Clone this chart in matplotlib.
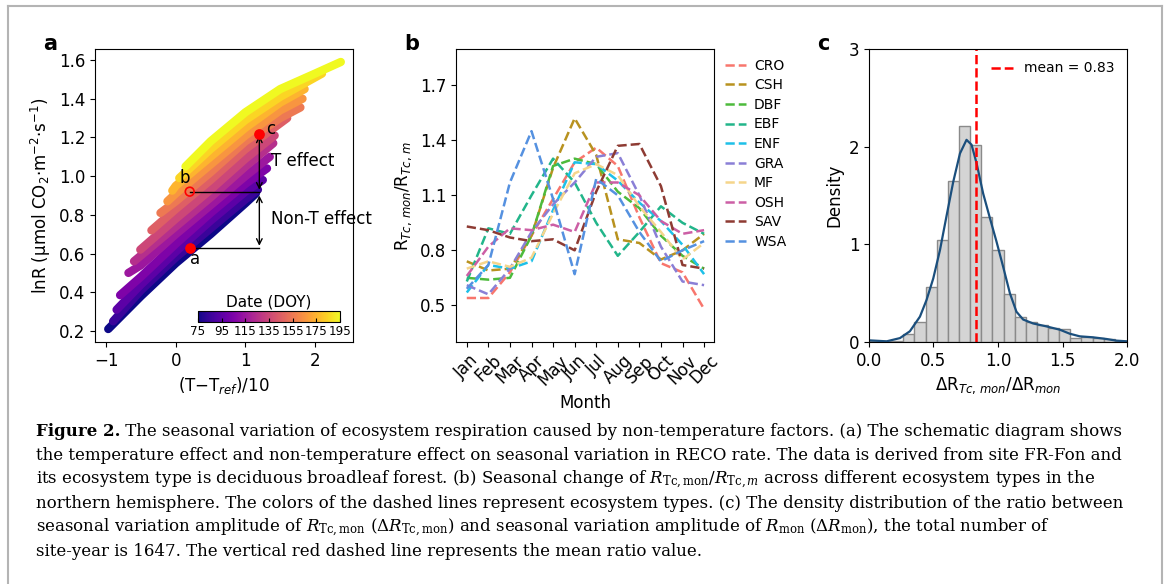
import matplotlib
matplotlib.use('Agg')
import matplotlib.pyplot as plt
from matplotlib.lines import Line2D
import numpy as np

# ---- panel a: lnR vs (T-Tref)/10, one band per DOY group ----
doy_groups = [75, 85, 95, 105, 115, 125, 135, 145, 155, 165, 175, 185, 195]
band_x = [
    [-0.97, -0.5, 0.0, 0.5, 1.0, 1.15],
    [-0.90, -0.5, 0.0, 0.5, 1.0, 1.18],
    [-0.85, -0.5, 0.0, 0.5, 1.0, 1.25],
    [-0.80, -0.5, 0.0, 0.5, 1.0, 1.31],
    [-0.68, -0.5, 0.0, 0.5, 1.0, 1.35],
    [-0.60, -0.5, 0.0, 0.5, 1.0, 1.40],
    [-0.51, 0.0, 0.5, 1.0, 1.42],
    [-0.35, 0.0, 0.5, 1.0, 1.60],
    [-0.22, 0.0, 0.5, 1.0, 1.5, 1.79],
    [-0.12, 0.0, 0.5, 1.0, 1.5, 1.82],
    [-0.05, 0.0, 0.5, 1.0, 1.5, 1.85],
    [0.05, 0.5, 1.0, 1.5, 2.1],
    [0.14, 0.5, 1.0, 1.5, 2.0, 2.37],
]
band_y = [
    [0.21, 0.38, 0.55, 0.70, 0.86, 0.91],
    [0.25, 0.41, 0.58, 0.73, 0.88, 0.93],
    [0.31, 0.44, 0.61, 0.77, 0.92, 0.98],
    [0.385, 0.48, 0.65, 0.81, 0.96, 1.04],
    [0.50, 0.54, 0.70, 0.85, 1.00, 1.10],
    [0.56, 0.59, 0.74, 0.89, 1.05, 1.17],
    [0.62, 0.78, 0.93, 1.09, 1.21],
    [0.72, 0.83, 0.98, 1.14, 1.30],
    [0.81, 0.87, 1.02, 1.18, 1.30, 1.355],
    [0.87, 0.91, 1.06, 1.21, 1.34, 1.40],
    [0.925, 0.95, 1.10, 1.25, 1.38, 1.45],
    [0.99, 1.14, 1.29, 1.41, 1.53],
    [1.05, 1.18, 1.33, 1.45, 1.53, 1.59],
]
pt_a = (0.2, 0.63)
pt_b = (0.2, 0.92)
pt_c = (1.2, 1.22)

# ---- panel b: seasonal ratio per ecosystem type ----
months = ['Jan', 'Feb', 'Mar', 'Apr', 'May', 'Jun', 'Jul', 'Aug', 'Sep', 'Oct', 'Nov', 'Dec']
eco_types = ['CRO', 'CSH', 'DBF', 'EBF', 'ENF', 'GRA', 'MF', 'OSH', 'SAV', 'WSA']
eco_colors = ['#f8766d', '#b8921f', '#4dbb3c', '#22b58a', '#1ec0e8',
              '#8a7fd6', '#f5d58b', '#cc5fa5', '#8e3b33', '#5591e0']
eco_values = [
    [0.54, 0.54, 0.68, 0.88, 1.08, 1.28, 1.36, 1.26, 0.98, 0.73, 0.68, 0.48],  # CRO
    [0.74, 0.69, 0.70, 0.88, 1.25, 1.52, 1.32, 0.86, 0.84, 0.75, 0.80, 0.89],  # CSH
    [0.65, 0.64, 0.65, 0.88, 1.26, 1.30, 1.27, 1.12, 1.03, 0.88, 0.77, 0.70],  # DBF
    [0.63, 0.92, 0.89, 1.10, 1.30, 1.17, 0.95, 0.77, 0.90, 1.04, 0.95, 0.89],  # EBF
    [0.57, 0.72, 0.70, 0.74, 1.02, 1.28, 1.27, 1.18, 1.06, 0.96, 0.83, 0.67],  # ENF
    [0.61, 0.56, 0.70, 0.90, 1.05, 1.17, 1.31, 1.33, 1.10, 0.82, 0.63, 0.61],  # GRA
    [0.70, 0.74, 0.71, 0.76, 1.00, 1.22, 1.27, 1.21, 1.04, 0.90, 0.75, 0.84],  # MF
    [0.66, 0.82, 0.92, 0.91, 0.94, 0.90, 1.17, 1.17, 1.10, 0.96, 0.89, 0.91],  # OSH
    [0.93, 0.91, 0.87, 0.85, 0.86, 0.80, 1.12, 1.37, 1.38, 1.15, 0.72, 0.70],  # SAV
    [0.59, 0.72, 1.17, 1.45, 1.08, 0.67, 1.19, 1.10, 0.90, 0.74, 0.80, 0.85],  # WSA
]

# ---- panel c: histogram + kde of the ratio ----
hist_left = [0.007, 0.093, 0.180, 0.266, 0.352, 0.439, 0.525, 0.611, 0.698, 0.784,
             0.870, 0.957, 1.043, 1.129, 1.216, 1.302, 1.388, 1.475, 1.561, 1.647,
             1.734, 1.820, 1.906]
hist_density = [0.012, 0.006, 0.006, 0.085, 0.205, 0.56, 1.04, 1.65, 2.21, 2.02,
                1.28, 0.94, 0.49, 0.26, 0.20, 0.177, 0.143, 0.133, 0.037, 0.05,
                0.045, 0.034, 0.008]
kde_x = [0.0, 0.137, 0.24, 0.317, 0.395, 0.446, 0.498, 0.55, 0.601, 0.653, 0.705,
         0.756, 0.795, 0.834, 0.885, 0.937, 0.988, 1.04, 1.092, 1.143, 1.195,
         1.272, 1.375, 1.479, 1.556, 1.634, 1.737, 1.84, 1.917, 2.0]
kde_y = [0.017, 0.007, 0.04, 0.11, 0.26, 0.43, 0.65, 0.94, 1.29, 1.64, 1.93,
         2.07, 2.02, 1.83, 1.52, 1.27, 1.03, 0.77, 0.50, 0.31, 0.23,
         0.19, 0.16, 0.126, 0.085, 0.058, 0.048, 0.031, 0.014, 0.007]
mean_ratio = 0.83

W, H = 1166, 584
fig = plt.figure(figsize=(W / 100, H / 100), dpi=100)


def px_axes(x0, y0, x1, y1):
    # pixel box (top-left origin) -> figure axes
    return fig.add_axes([x0 / W, 1 - y1 / H, (x1 - x0) / W, (y1 - y0) / H])


tick_fs = 12

# ================= panel a =================
ax1 = px_axes(95, 49, 353, 342)
cmap = plt.get_cmap('plasma')
norm = matplotlib.colors.Normalize(vmin=75, vmax=195)
for d, bx, by in zip(doy_groups, band_x, band_y):
    ax1.plot(bx, by, color=cmap(norm(d)), lw=6, solid_capstyle='round', zorder=2)
ax1.plot([pt_a[0], pt_c[0]], [pt_a[1], pt_a[1]], color='black', lw=1, zorder=4)
ax1.plot([pt_b[0], pt_c[0]], [pt_b[1], pt_b[1]], color='black', lw=1, zorder=4)
ax1.annotate('', xy=(pt_c[0], pt_c[1] - 0.01), xytext=(pt_c[0], pt_b[1] + 0.01),
             arrowprops=dict(arrowstyle='<->', color='black', lw=1, shrinkA=0, shrinkB=0), zorder=4)
ax1.annotate('', xy=(pt_c[0], pt_b[1] - 0.02), xytext=(pt_c[0], pt_a[1] + 0.01),
             arrowprops=dict(arrowstyle='<->', color='black', lw=1, shrinkA=0, shrinkB=0), zorder=4)
ax1.scatter([pt_a[0], pt_c[0]], [pt_a[1], pt_c[1]], s=45, color='red', zorder=5)
ax1.scatter([pt_b[0]], [pt_b[1]], s=40, facecolor='none', edgecolor='red', lw=1.2, zorder=5)
ax1.text(0.27, 0.57, 'a', fontsize=12, ha='center', va='center')
ax1.text(0.13, 0.99, 'b', fontsize=12, ha='center', va='center')
ax1.text(1.37, 1.245, 'c', fontsize=12, ha='center', va='center')
ax1.text(1.37, 1.08, 'T effect', fontsize=12, ha='left', va='center')
ax1.text(1.37, 0.78, 'Non-T effect', fontsize=12, ha='left', va='center')
ax1.set_xlim(-1.16, 2.545)
ax1.set_ylim(0.143, 1.657)
ax1.set_xticks([-1, 0, 1, 2])
ax1.set_xticklabels(['\u22121', '0', '1', '2'])
ax1.set_yticks([0.2, 0.4, 0.6, 0.8, 1.0, 1.2, 1.4, 1.6])
ax1.tick_params(labelsize=tick_fs)
ax1.set_xlabel(r'(T$-$T$_{ref}$)/10', fontsize=tick_fs)
ax1.set_ylabel('lnR (\u03bcmol CO$_2$\u00b7m$^{-2}$\u00b7s$^{-1}$)', fontsize=tick_fs)

cax = px_axes(198, 311, 340, 322)
sm = matplotlib.cm.ScalarMappable(norm=norm, cmap=cmap)
cb = fig.colorbar(sm, cax=cax, orientation='horizontal', ticks=[75, 95, 115, 135, 155, 175, 195])
cax.tick_params(labelsize=8.6, direction='in', length=3, pad=2)
cax.set_title('Date (DOY)', fontsize=11, pad=3)

# ================= panel b =================
ax2 = px_axes(456, 49, 714, 342)
mx = np.arange(len(months))
for name, col, vals in zip(eco_types, eco_colors, eco_values):
    ax2.plot(mx, vals, ls='--', color=col, lw=1.8, label=name)
ax2.set_xlim(-0.5, 11.46)
ax2.set_ylim(0.3, 1.898)
ax2.set_xticks(mx)
ax2.set_xticklabels(months, rotation=45)
ax2.set_yticks([0.5, 0.8, 1.1, 1.4, 1.7])
ax2.tick_params(labelsize=tick_fs)
ax2.set_xlabel('Month', fontsize=tick_fs)
ax2.set_ylabel(r'R$_{Tc,\,mon}$/R$_{Tc,\,m}$', fontsize=tick_fs)
ax2.legend(loc='upper left', bbox_to_anchor=(1.01, 0.995), frameon=False, fontsize=10,
           handlelength=1.5, handletextpad=0.6, labelspacing=0.4, borderaxespad=0.2)

# ================= panel c =================
ax3 = px_axes(869, 49, 1127, 342)
ax3.bar(hist_left, hist_density, width=0.0863, align='edge', color='#d4d4d4',
        edgecolor='#8a8a8a', lw=1)
ax3.plot(kde_x, kde_y, color='#1b4f7d', lw=1.6)
ax3.axvline(mean_ratio, color='red', ls='--', lw=1.8, label='mean = %.2f' % mean_ratio)
ax3.set_xlim(0, 2)
ax3.set_ylim(0, 3)
ax3.set_xticks([0.0, 0.5, 1.0, 1.5, 2.0])
ax3.set_yticks([0, 1, 2, 3])
ax3.tick_params(labelsize=tick_fs)
ax3.set_xlabel(r'$\Delta$R$_{Tc,\,mon}$/$\Delta$R$_{mon}$', fontsize=tick_fs)
ax3.set_ylabel('Density', fontsize=tick_fs)
ax3.legend(loc='upper right', frameon=False, fontsize=10, handlelength=1.6,
           handletextpad=0.8, borderaxespad=0.5)

# panel letters
for lx, lt in [(50, 'a'), (412, 'b'), (823, 'c')]:
    fig.text(lx / W, 1 - 44 / H, lt, fontsize=15, fontweight='bold', ha='center', va='center')

# ================= caption =================
cap_font = 'DejaVu Serif'
cap_x = 36
cap_lines = [
    ' The seasonal variation of ecosystem respiration caused by non-temperature factors. (a) The schematic diagram shows',
    'the temperature effect and non-temperature effect on seasonal variation in RECO rate. The data is derived from site FR-Fon and',
    r'its ecosystem type is deciduous broadleaf forest. (b) Seasonal change of $R_{\mathrm{Tc,mon}}/R_{\mathrm{Tc},m}$ across different ecosystem types in the',
    'northern hemisphere. The colors of the dashed lines represent ecosystem types. (c) The density distribution of the ratio between',
    r'seasonal variation amplitude of $R_{\mathrm{Tc,mon}}$ ($\Delta R_{\mathrm{Tc,mon}}$) and seasonal variation amplitude of $R_{\mathrm{mon}}$ ($\Delta R_{\mathrm{mon}}$), the total number of',
    'site-year is 1647. The vertical red dashed line represents the mean ratio value.',
]
cap_y0 = 432
cap_dy = 24
renderer = fig.canvas.get_renderer()
# size the caption so the second line spans the same width as in the original
probe = fig.text(0, 0, cap_lines[1], fontsize=10, family=cap_font)
cap_fs = 10 * 1094 / probe.get_window_extent(renderer).width
probe.remove()
lead = fig.text(cap_x / W, 1 - cap_y0 / H, 'Figure 2.', fontsize=cap_fs, family=cap_font,
                fontweight='bold', ha='left', va='center')
lead_w = lead.get_window_extent(renderer).width
for i, line in enumerate(cap_lines):
    x0 = cap_x + (lead_w if i == 0 else 0)
    fig.text(x0 / W, 1 - (cap_y0 + i * cap_dy) / H, line, fontsize=cap_fs, family=cap_font,
             math_fontfamily='dejavuserif', ha='left', va='center')

# outer frame
frame_col = '#b4b4b4'
fig.add_artist(Line2D([8 / W, 1162 / W], [1 - 6 / H, 1 - 6 / H], color=frame_col, lw=1.5))
fig.add_artist(Line2D([8 / W, 8 / W], [0, 1 - 6 / H], color=frame_col, lw=1.5))
fig.add_artist(Line2D([1162 / W, 1162 / W], [0, 1 - 6 / H], color=frame_col, lw=1.5))

fig.savefig('out.png', dpi=100)
